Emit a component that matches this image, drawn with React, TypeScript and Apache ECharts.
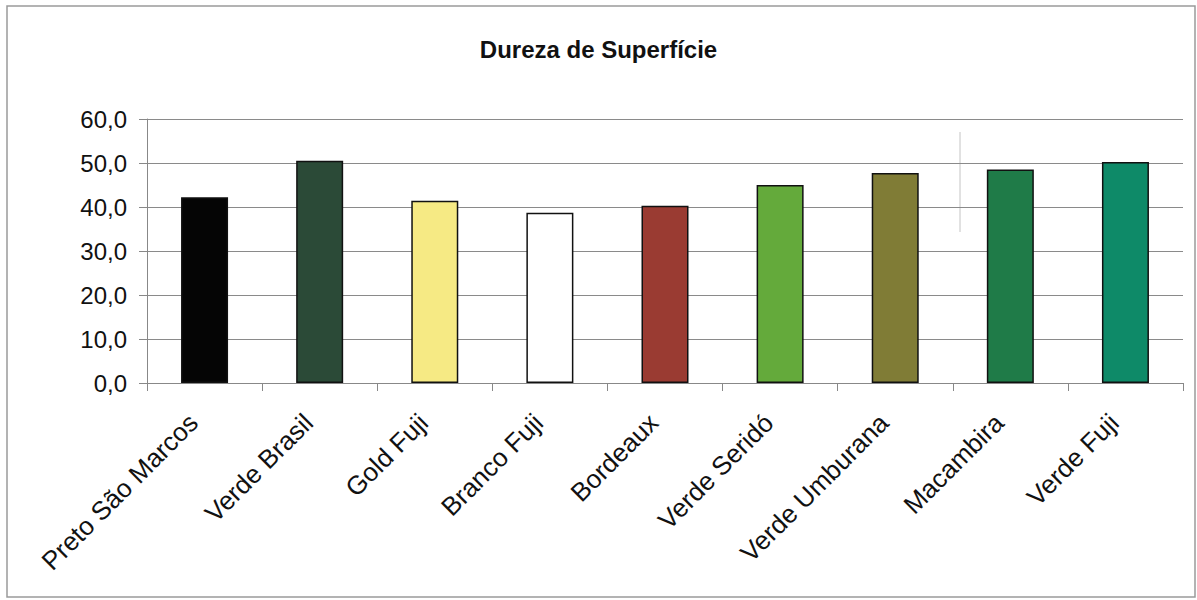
import React, { useEffect, useRef } from "react";
import * as echarts from "echarts";

const categories = [
  "Preto São Marcos",
  "Verde Brasil",
  "Gold Fuji",
  "Branco Fuji",
  "Bordeaux",
  "Verde Seridó",
  "Verde Umburana",
  "Macambira",
  "Verde Fuji",
];
const values = [42.2, 50.5, 41.4, 38.7, 40.3, 45.0, 47.7, 48.5, 50.2];
const barColors = [
  "#050505",
  "#2b4a37",
  "#f6ea84",
  "#ffffff",
  "#9a3b32",
  "#64aa3b",
  "#807c36",
  "#1f7b48",
  "#0e8a68",
];
const title = "Dureza de Superfície";

const FONT = "'Liberation Sans', Arial, sans-serif";

export default function App() {
  const ref = useRef<HTMLDivElement>(null);
  useEffect(() => {
    if (!ref.current) return;
    const chart = echarts.init(ref.current, null, { renderer: "svg" });
    chart.setOption({
      animation: false,
      backgroundColor: "#ffffff",
      title: {
        text: title,
        left: "center",
        top: 32,
        textStyle: { fontFamily: FONT, fontSize: 24, fontWeight: "bold", color: "#111" },
      },
      grid: { left: 147, right: 14, top: 119, bottom: 217, containLabel: false },
      xAxis: {
        type: "category",
        data: categories,
        axisLine: { lineStyle: { color: "#888", width: 1 } },
        axisTick: { show: true, length: 8, lineStyle: { color: "#888" } },
        axisLabel: {
          rotate: 45,
          interval: 0,
          margin: 24,
          padding: [0, 16, 0, 0],
          fontFamily: FONT,
          fontSize: 26,
          color: "#111",
        },
      },
      yAxis: {
        type: "value",
        min: 0,
        max: 60,
        interval: 10,
        axisLine: { show: true, lineStyle: { color: "#888", width: 1 } },
        axisTick: { show: true, length: 8, lineStyle: { color: "#888" } },
        splitLine: { lineStyle: { color: "#8a8a8a", width: 1 } },
        axisLabel: {
          margin: 20,
          fontFamily: FONT,
          fontSize: 24,
          color: "#111",
          formatter: (v: number) => v.toFixed(1).replace(".", ","),
        },
      },
      series: [
        {
          type: "bar",
          data: values.map((v, i) => ({
            value: v,
            itemStyle: { color: barColors[i], borderColor: "#111", borderWidth: 1.5 },
          })),
          barWidth: 47,
        },
      ],
      graphic: [
        {
          type: "rect",
          shape: { x: 7, y: 6, width: 1188, height: 591 },
          style: { fill: "none", stroke: "#9a9a9a", lineWidth: 1.5 },
          silent: true,
        },
        {
          type: "line",
          shape: { x1: 960, y1: 132, x2: 960, y2: 232 },
          style: { stroke: "#c4c4c4", lineWidth: 1 },
          silent: true,
        },
      ],
    });
    return () => chart.dispose();
  }, []);
  return (
    <div
      ref={ref}
      style={{ position: "absolute", left: 0, top: 0, width: 1197, height: 600 }}
    />
  );
}
